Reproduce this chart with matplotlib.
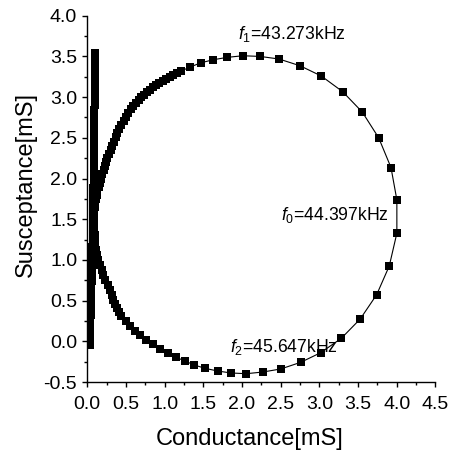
import matplotlib
matplotlib.use("Agg")
import matplotlib.pyplot as plt
from matplotlib.ticker import MultipleLocator, FormatStrFormatter

plt.rcParams['font.family'] = ['Liberation Sans', 'DejaVu Sans']
plt.rcParams['mathtext.fontset'] = 'custom'
plt.rcParams['mathtext.rm'] = 'Liberation Sans'
plt.rcParams['mathtext.it'] = 'Liberation Sans:italic'

# Admittance circle, frequency order: rising branch up to f1 (top) ...
upper_g = [0.09, 0.095, 0.10, 0.11, 0.12, 0.13, 0.145, 0.16, 0.175, 0.19,
           0.21, 0.23, 0.245, 0.26, 0.28, 0.30, 0.32, 0.34, 0.365, 0.39,
           0.415, 0.44, 0.47, 0.50, 0.53, 0.56, 0.595, 0.63, 0.665, 0.70,
           0.735, 0.77, 0.81, 0.85, 0.89, 0.93, 0.975, 1.02, 1.065, 1.11,
           1.16, 1.212, 1.328, 1.470, 1.629, 1.807]
upper_b = [1.60, 1.65, 1.70, 1.75, 1.80, 1.85, 1.90, 1.95, 2.00, 2.05,
           2.10, 2.15, 2.20, 2.25, 2.30, 2.35, 2.40, 2.45, 2.505, 2.56,
           2.61, 2.66, 2.71, 2.76, 2.805, 2.85, 2.89, 2.93, 2.965, 3.00,
           3.03, 3.06, 3.09, 3.12, 3.145, 3.17, 3.195, 3.22, 3.245, 3.27,
           3.295, 3.320, 3.369, 3.422, 3.459, 3.488]

# ... through f0 (max conductance) down to f2 (bottom) ...
right_g = [2.010, 2.233, 2.479, 2.751, 3.026, 3.303, 3.556, 3.768, 3.927, 4.003,
           4.003, 3.905, 3.742, 3.530, 3.285, 3.018, 2.760, 2.501, 2.272, 2.056]
right_b = [3.508, 3.500, 3.468, 3.385, 3.259, 3.066, 2.816, 2.500, 2.135, 1.738,
           1.328, 0.926, 0.573, 0.275, 0.037, -0.140, -0.258, -0.340, -0.377, -0.398]

# ... and back round the lower branch
lower_g = [1.858, 1.686, 1.522, 1.384, 1.260, 1.143, 1.040, 0.940, 0.846, 0.763,
           0.685, 0.621, 0.552, 0.497, 0.44, 0.41, 0.38, 0.357, 0.336, 0.315,
           0.294, 0.262, 0.229, 0.207, 0.186, 0.164, 0.142, 0.128, 0.113, 0.105,
           0.10, 0.095, 0.092, 0.09, 0.088, 0.088]
lower_b = [-0.389, -0.365, -0.332, -0.291, -0.242, -0.193, -0.143, -0.091, -0.036, 0.016,
           0.074, 0.127, 0.189, 0.25, 0.31, 0.36, 0.406, 0.457, 0.508, 0.57,
           0.631, 0.692, 0.754, 0.815, 0.877, 0.938, 1.0, 1.06, 1.123, 1.18,
           1.24, 1.30, 1.36, 1.42, 1.48, 1.54]

# Off-resonance sweep: nearly zero conductance, susceptance climbing
strand_g = [0.030, 0.032, 0.034, 0.036, 0.038, 0.040, 0.042, 0.044, 0.046, 0.048,
            0.050, 0.052, 0.054, 0.055, 0.057, 0.059, 0.060, 0.062, 0.064, 0.065,
            0.067, 0.068, 0.070, 0.071, 0.072, 0.073, 0.074, 0.075, 0.076, 0.077,
            0.078, 0.079, 0.080, 0.081, 0.082, 0.083, 0.084, 0.085, 0.086, 0.087,
            0.088, 0.088, 0.089, 0.090, 0.090, 0.091, 0.092, 0.092, 0.093, 0.094,
            0.094, 0.095, 0.095, 0.096, 0.096, 0.097, 0.097, 0.097, 0.096, 0.096, 0.095]
strand_b = [-0.04, 0.02, 0.08, 0.14, 0.20, 0.26, 0.32, 0.38, 0.44, 0.50,
            0.56, 0.62, 0.68, 0.74, 0.80, 0.86, 0.92, 0.98, 1.04, 1.10,
            1.16, 1.22, 1.28, 1.34, 1.40, 1.46, 1.52, 1.58, 1.64, 1.70,
            1.76, 1.82, 1.88, 1.94, 2.00, 2.06, 2.12, 2.18, 2.24, 2.30,
            2.36, 2.42, 2.48, 2.54, 2.60, 2.66, 2.72, 2.78, 2.84, 2.90,
            2.96, 3.02, 3.08, 3.14, 3.20, 3.26, 3.32, 3.38, 3.44, 3.50, 3.54]

freq_labels = ["43.273kHz", "44.397kHz", "45.647kHz"]
freq_subs = ["1", "0", "2"]
label_pos = [(1.95, 3.77), (2.51, 1.55), (1.84, -0.07)]

circle_g = upper_g + right_g + lower_g
circle_b = upper_b + right_b + lower_b

fig = plt.figure(figsize=(4.54, 4.50), dpi=100)
ax = fig.add_axes([0.1923, 0.1511, 0.7665, 0.814])

style = dict(color='black', lw=0.8, marker='s', ms=5.4,
             mfc='black', mec='black', mew=0)
ax.plot(strand_g, strand_b, **style)
ax.plot(circle_g, circle_b, **style)

for text, sub, (x, y) in zip(freq_labels, freq_subs, label_pos):
    ax.text(x, y, r"$\it{f}_{" + sub + "}$=" + text, fontsize=12.7,
            ha='left', va='center')

ax.set_xlim(0, 4.5)
ax.set_ylim(-0.5, 4.0)
ax.xaxis.set_major_locator(MultipleLocator(0.5))
ax.xaxis.set_minor_locator(MultipleLocator(0.25))
ax.yaxis.set_major_locator(MultipleLocator(0.5))
ax.yaxis.set_minor_locator(MultipleLocator(0.25))
ax.xaxis.set_major_formatter(FormatStrFormatter('%.1f'))
ax.yaxis.set_major_formatter(FormatStrFormatter('%.1f'))

for side in ('top', 'right'):
    ax.spines[side].set_visible(False)
for side in ('left', 'bottom'):
    ax.spines[side].set_linewidth(1.0)

ax.tick_params(which='major', direction='out', length=3.8, width=1.0,
               labelsize=14)
ax.tick_params(axis='x', which='major', pad=6.5)
ax.tick_params(axis='y', which='major', pad=3.5)
ax.tick_params(which='minor', direction='out', length=2.2, width=1.0)

ax.set_xlabel('Conductance[mS]', fontsize=17)
ax.set_ylabel('Susceptance[mS]', fontsize=17)
ax.xaxis.set_label_coords(0.466, -0.125)
ax.yaxis.set_label_coords(-0.145, 0.54)

fig.savefig('out.png', dpi=100)
